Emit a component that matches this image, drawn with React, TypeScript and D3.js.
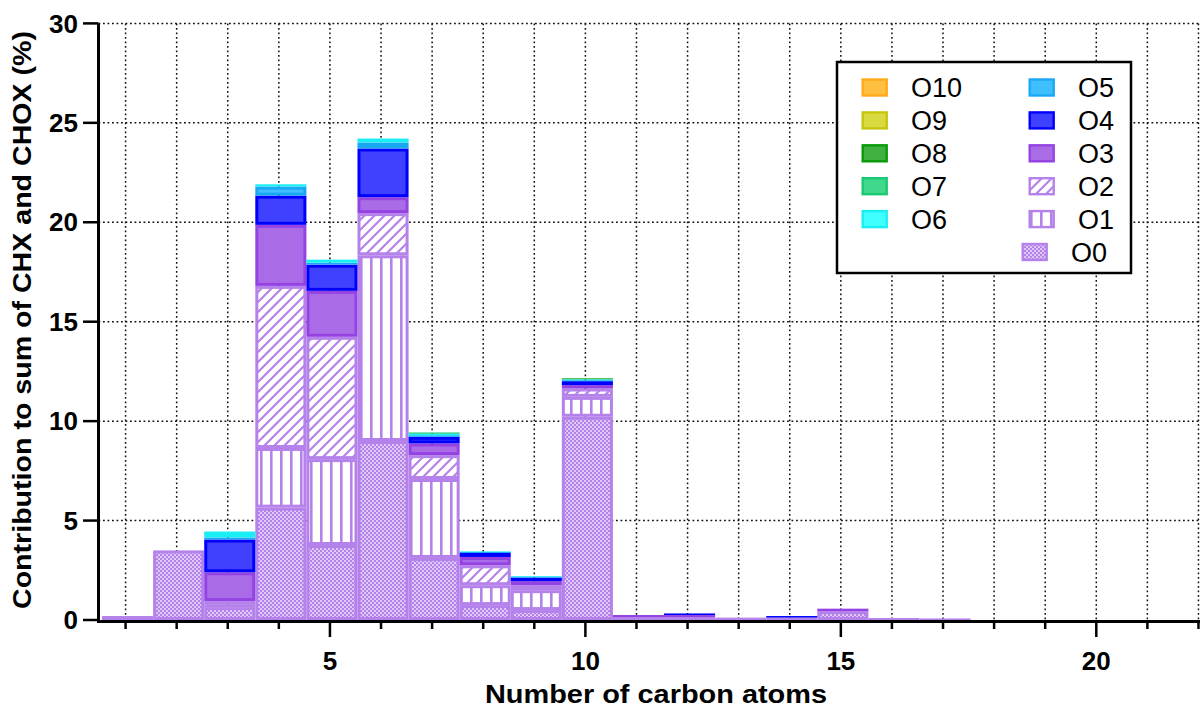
import * as d3 from 'd3';

// number of carbon atoms (categories)
const carbons = [1, 2, 3, 4, 5, 6, 7, 8, 9, 10, 11, 12, 13, 14, 15, 16, 17];

// contribution (%) per oxygen class, one value per carbon number
const O0 = [0.2, 3.5, 0.65, 5.65, 3.77, 9.0, 3.12, 0.75, 0.5, 10.22, 0.15, 0.15, 0.12, 0.12, 0.45, 0.1, 0.08];
const O1 = [0, 0, 0.15, 3.0, 4.32, 9.34, 3.97, 1.0, 1.0, 1.0, 0, 0, 0, 0, 0, 0, 0];
const O2 = [0, 0, 0.15, 8.15, 6.15, 2.12, 1.2, 1.0, 0.25, 0.42, 0, 0, 0, 0, 0, 0, 0];
const O3 = [0, 0, 1.45, 3.07, 2.31, 0.8, 0.59, 0.42, 0.2, 0.17, 0.1, 0.1, 0, 0, 0.12, 0, 0];
const O4 = [0, 0, 1.65, 1.47, 1.32, 2.45, 0.33, 0.2, 0.18, 0.2, 0, 0.08, 0, 0.08, 0, 0, 0];
const O5 = [0, 0, 0.1, 0.45, 0.1, 0.3, 0.08, 0.05, 0.04, 0.05, 0, 0, 0, 0, 0, 0, 0];
const O6 = [0, 0, 0.3, 0.12, 0.15, 0.2, 0.08, 0.03, 0.04, 0.04, 0, 0, 0, 0, 0, 0, 0];
const O7 = [0, 0, 0, 0, 0, 0, 0.06, 0, 0, 0.03, 0, 0, 0, 0, 0, 0, 0];
const O8 = [0, 0, 0, 0, 0, 0, 0, 0, 0, 0.03, 0, 0, 0, 0, 0, 0, 0];
const O9 = [0, 0, 0, 0, 0, 0, 0, 0, 0, 0, 0, 0, 0, 0, 0, 0, 0];
const O10 = [0, 0, 0, 0, 0, 0, 0, 0, 0, 0, 0, 0, 0, 0, 0, 0, 0];

const seriesNames = ['O0', 'O1', 'O2', 'O3', 'O4', 'O5', 'O6', 'O7', 'O8', 'O9', 'O10'];
const seriesValues = [O0, O1, O2, O3, O4, O5, O6, O7, O8, O9, O10];

const yTicks = [0, 5, 10, 15, 20, 25, 30];
const xMajor = [5, 10, 15, 20];
const xMinor = [1, 2, 3, 4, 5, 6, 7, 8, 9, 10, 11, 12, 13, 14, 15, 16, 17, 18, 19, 20, 21, 22];

const lav = '#b482ea';
const fills: Record<string, string> = {
  O0: 'url(#pO0)', O1: 'url(#pO1)', O2: 'url(#pO2)', O3: '#aa6ce6', O4: '#4040ff',
  O5: '#40bfff', O6: '#40ffff', O7: '#40d98c', O8: '#40b040', O9: '#d9d940', O10: '#ffbf40',
};
const strokes: Record<string, string> = {
  O0: lav, O1: lav, O2: lav, O3: '#9443e2', O4: '#0000ff',
  O5: '#1aa8f5', O6: '#1aeef5', O7: '#19c973', O8: '#0a9a0a', O9: '#c5c50f', O10: '#ffa91a',
};

const font = '"Liberation Sans", Arial, sans-serif';

export default function App() {
  const left = 98.5, right = 1200, top = 23.4, bottom = 620;
  const x = d3.scaleLinear().domain([0.47, 22.03]).range([left, right]);
  const y = d3.scaleLinear().domain([0, 30]).range([bottom, top]);

  const rows = carbons.map((c, i) => {
    const o: any = { c };
    seriesNames.forEach((s, k) => { o[s] = seriesValues[k][i]; });
    return o;
  });
  const stacked = d3.stack<any>().keys(seriesNames)(rows);

  const segs: any[] = [];
  stacked.forEach(layer => {
    layer.forEach(d => {
      const c = d.data.c;
      const x0 = x(c - 0.5) + 2, x1 = x(c + 0.5) + 2;
      const y0 = y(d[1]), y1 = y(d[0]);
      const h = y1 - y0;
      if (h <= 0.05) return;
      segs.push({ key: layer.key + '-' + c, s: layer.key, x0, x1, y0, h });
    });
  });

  // legend layout
  const col1 = ['O10', 'O9', 'O8', 'O7', 'O6'];
  const col2 = ['O5', 'O4', 'O3', 'O2', 'O1'];
  const rowY = (i: number) => 87.5 + i * 32.9;

  const swatch = (s: string, sx: number, sy: number) => (
    <rect x={sx + 1.2} y={sy - 8} width={24} height={16} fill={fills[s]} stroke={strokes[s]} strokeWidth={2.4} />
  );

  return (
    <svg width={1203} height={711} style={{ position: 'absolute', left: 0, top: 0, background: '#fff' }} fontFamily={font}>
      <defs>
        <pattern id="pO0" width={4} height={4} patternUnits="userSpaceOnUse">
          <rect width={4} height={4} fill={lav} />
          <rect x={0.3} y={0.3} width={1.5} height={1.5} fill="#fff" />
          <rect x={2.3} y={2.3} width={1.5} height={1.5} fill="#fff" />
        </pattern>
        <pattern id="pO1" width={10} height={10} patternUnits="userSpaceOnUse">
          <rect width={10} height={10} fill="#fff" />
          <rect x={0} y={0} width={2.6} height={10} fill={lav} />
        </pattern>
        <pattern id="pO2" width={10} height={10} patternUnits="userSpaceOnUse">
          <rect width={10} height={10} fill="#fff" />
          <path d="M-2,12 L12,-2 M-2,2 L2,-2 M8,12 L12,8" stroke={lav} strokeWidth={2.2} />
        </pattern>
      </defs>

      {/* grid */}
      {xMinor.map(t => (
        <line key={'gx' + t} x1={x(t)} x2={x(t)} y1={top} y2={bottom} stroke="#111" strokeWidth={1.5} strokeDasharray="1.8,2.7" />
      ))}
      {yTicks.filter(t => t > 0).map(t => (
        <line key={'gy' + t} x1={left} x2={right} y1={y(t)} y2={y(t)} stroke="#111" strokeWidth={1.5} strokeDasharray="1.8,2.7" />
      ))}

      {/* stacked bars */}
      {segs.map(d => {
        if (d.h < 4) {
          return <rect key={d.key} x={d.x0} y={d.y0} width={d.x1 - d.x0} height={d.h} fill={strokes[d.s]} />;
        }
        return (
          <rect key={d.key} x={d.x0 + 1.5} y={d.y0 + 1.5} width={d.x1 - d.x0 - 3} height={d.h - 3}
            fill={fills[d.s]} stroke={strokes[d.s]} strokeWidth={3} />
        );
      })}

      {/* axes */}
      <line x1={left} x2={right} y1={621.5} y2={621.5} stroke="#000" strokeWidth={3} />
      <line x1={left} x2={left} y1={top} y2={623} stroke="#000" strokeWidth={3} />
      {yTicks.map(t => (
        <g key={'yt' + t}>
          <line x1={83} x2={left} y1={y(t)} y2={y(t)} stroke="#000" strokeWidth={2.5} />
          <text x={78} y={y(t)} dy="0.35em" textAnchor="end" fontSize={26} fontWeight="bold">{t}</text>
        </g>
      ))}
      {xMinor.map(t => (
        <line key={'xt' + t} x1={x(t)} x2={x(t)} y1={621} y2={xMajor.includes(t) ? 637 : 629} stroke="#000" strokeWidth={2.5} />
      ))}
      {xMajor.map(t => (
        <text key={'xl' + t} x={x(t)} y={670} textAnchor="middle" fontSize={26} fontWeight="bold">{t}</text>
      ))}

      <text x={656} y={703} textAnchor="middle" fontSize={25} fontWeight="bold" textLength={342} lengthAdjust="spacingAndGlyphs">
        Number of carbon atoms
      </text>
      <text transform="translate(31,320) rotate(-90)" textAnchor="middle" fontSize={25} fontWeight="bold" textLength={578} lengthAdjust="spacingAndGlyphs">
        Contribution to sum of CHX and CHOX (%)
      </text>

      {/* legend */}
      <rect x={837} y={62} width={294} height={211} fill="#fff" stroke="#000" strokeWidth={2.5} />
      {col1.map((s, i) => (
        <g key={'l1' + s}>
          {swatch(s, 861.5, rowY(i))}
          <text x={911} y={rowY(i)} dy="0.36em" fontSize={27}>{s}</text>
        </g>
      ))}
      {col2.map((s, i) => (
        <g key={'l2' + s}>
          {swatch(s, 1028.5, rowY(i))}
          <text x={1078} y={rowY(i)} dy="0.36em" fontSize={27}>{s}</text>
        </g>
      ))}
      {swatch('O0', 1021.5, 252)}
      <text x={1071} y={252} dy="0.36em" fontSize={27}>O0</text>
    </svg>
  );
}
